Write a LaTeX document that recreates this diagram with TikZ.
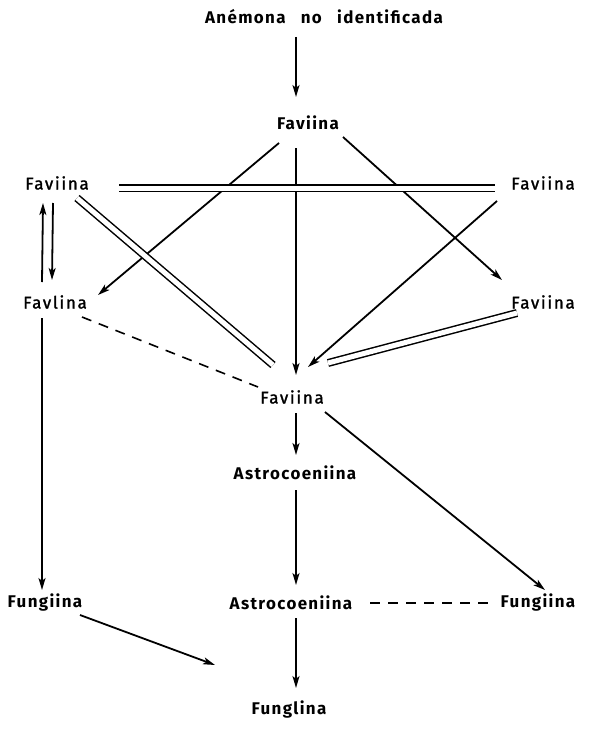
\documentclass[tikz,border=0pt]{standalone}
\usepackage{fontspec}
\setmainfont{Fira Sans}
\usetikzlibrary{arrows.meta,calc}
\begin{document}
\begin{tikzpicture}[x=1bp,y=-1bp,
  lbl/.style={inner sep=0pt,font=\fontsize{17}{19}\selectfont\addfontfeatures{LetterSpace=10,FakeBold=1.5}},
  lblb/.style={inner sep=0pt,font=\fontsize{17}{19}\selectfont\bfseries\addfontfeatures{LetterSpace=8}},
  arr/.style={line width=1.8bp,-{Stealth[length=12bp,width=7bp,inset=3bp]}},
  dbl/.style={double,double distance=5bp,line width=1.5bp},
  dsh/.style={line width=1.6bp,dash pattern=on 10bp off 8bp}]
\useasboundingbox[fill=white] (0,0) rectangle (612,738);
% taxa
\node[lblb] (anem) at (324,17) {Anémona\hspace{0.9em}no\hspace{0.9em}identificada};
\node[lblb] (f0) at (308,123) {Faviina};
\node[lbl] (fL1) at (57,183) {Faviina};
\node[lbl] (fR1) at (543,183) {Faviina};
\node[lbl] (fL2) at (55,302) {Favlina};
\node[lbl] (fR2) at (543,302) {Faviina};
\node[lbl] (fC) at (292,397) {Faviina};
\node[lblb] (astro1) at (295,473) {Astrocoeniina};
\node[lblb] (fungL) at (45,603) {Fungiina};
\node[lblb] (astro2) at (291,603) {Astrocoeniina};
\node[lblb] (fungR) at (538,603) {Fungiina};
\node[lblb] (fungB) at (289,710) {Funglina};
% descent lines
\draw[arr] ($(anem)+(-28,20)$) -- ($(f0)+(-12,-26)$);
\draw[arr] ($(f0)+(-29,20)$) -- ($(fL2)+(43,-7)$);
\draw[arr] ($(f0)+(-12,25)$) -- ($(fC)+(4,-22)$);
\draw[arr] ($(f0)+(35,14)$) -- ($(fR2)+(-41,-22)$);
\draw[arr] ($(fR1)+(-46,18)$) -- ($(fC)+(16,-30)$);
\draw[arr] ($(fL2)+(-13,-20)$) -- ($(fL1)+(-14,20)$);
\draw[arr] ($(fL1)+(-4,20)$) -- ($(fL2)+(-3,-22)$);
\draw[arr] ($(fL2)+(-13,16)$) -- ($(fungL)+(-3,-13)$);
\draw[arr] ($(fC)+(4,16)$) -- ($(astro1)+(1,-18)$);
\draw[arr] ($(fC)+(33,15)$) -- ($(fungR)+(7,-13)$);
\draw[arr] ($(astro1)+(1,17)$) -- ($(astro2)+(5,-18)$);
\draw[arr] ($(astro2)+(5,15)$) -- ($(fungB)+(7,-22)$);
\draw[arr] ($(fungL)+(35,12)$) -- ($(fungB)+(-74,-45)$);
% close relations
\draw[dbl] ($(fL1)+(62,5)$) -- ($(fR1)+(-48,5)$);
\draw[dbl] ($(fL1)+(20,15)$) -- ($(fC)+(-19,-32)$);
\draw[dbl] ($(fR2)+(-26,11)$) -- ($(fC)+(36,-34)$);
% uncertain relations
\draw[dsh] ($(fL2)+(27,15)$) -- ($(fC)+(-34,-10)$);
\draw[dsh] ($(astro2)+(79,0)$) -- ($(fungR)+(-48,0)$);
\end{tikzpicture}
\end{document}
